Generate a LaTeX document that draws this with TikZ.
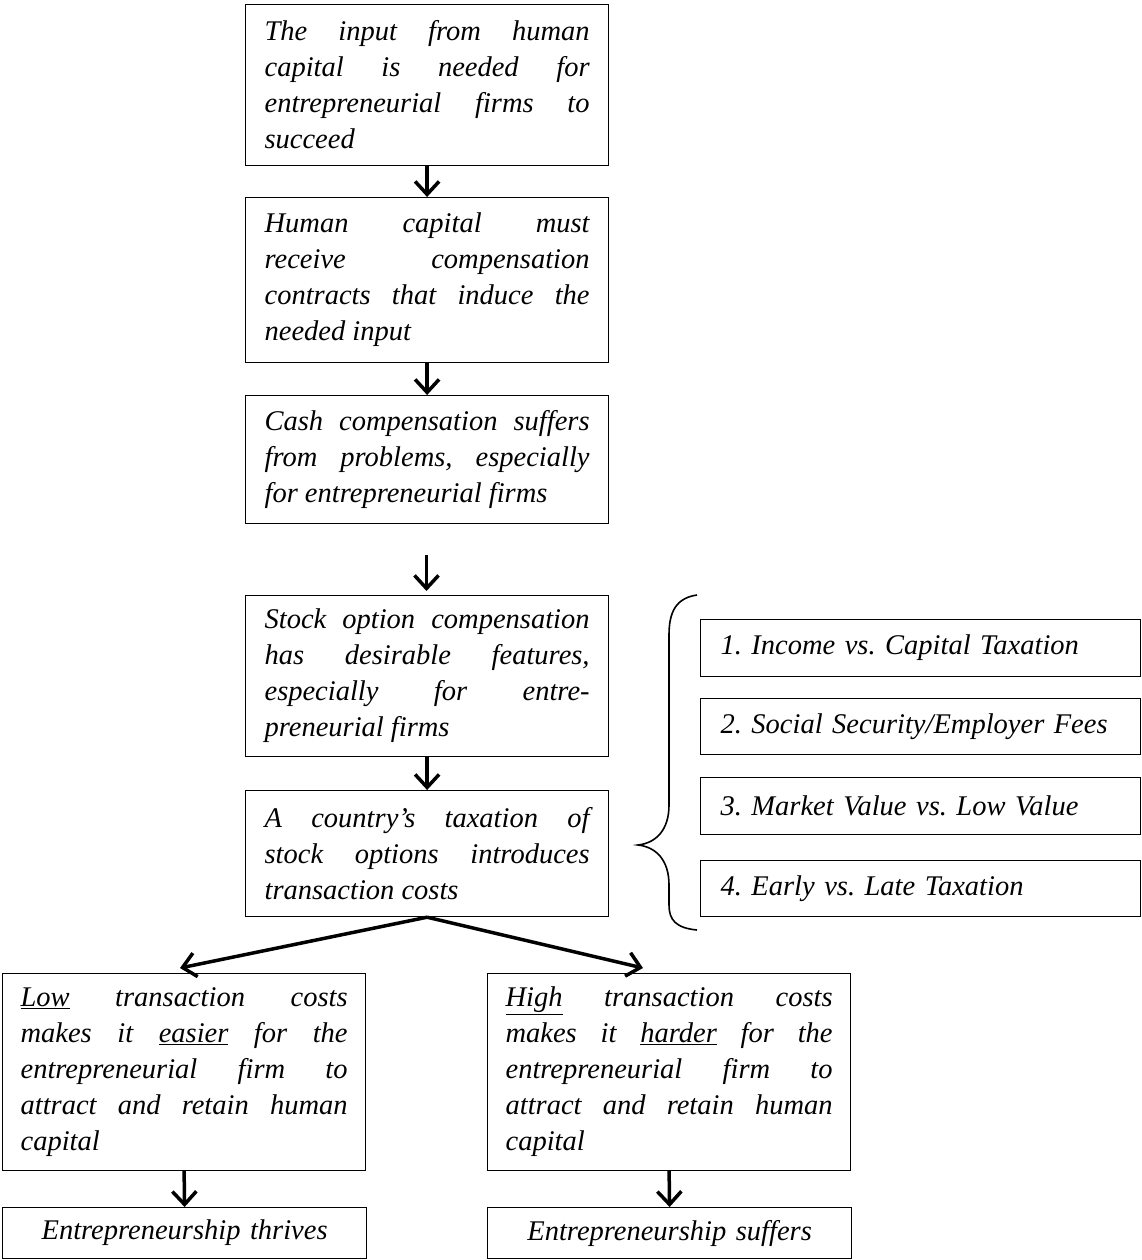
\documentclass[tikz,border=0pt]{standalone}
\usepackage{fontspec}
\setmainfont{Liberation Serif}
\usetikzlibrary{arrows.meta}
\tolerance=10000
\hbadness=10000
\frenchspacing
\begin{document}
\begin{tikzpicture}[x=1pt,y=-1pt,
  txt/.style={font=\fontsize{28.5}{36}\selectfont\itshape\frenchspacing},
  box/.style={txt, draw, line width=1.2pt, anchor=north west, text width=325pt,
    inner xsep=19pt, inner ysep=0pt, align=justify, minimum width=363pt},
  sbox/.style={txt, draw, line width=1.2pt, anchor=north west, text width=400pt,
    inner xsep=20pt, inner ysep=0pt, align=left, minimum width=440pt},
  ebox/.style={txt, draw, line width=1.2pt, anchor=north west, text width=326pt,
    inner xsep=19pt, inner ysep=0pt, align=center, minimum width=364pt, minimum height=51pt},
  arr/.style={line width=3.5pt, -{Straight Barb[length=13pt,width=24pt]}}]
\useasboundingbox (0,0) rectangle (1141,1260);

\node[box, minimum height=161pt] (b1) at (245,4)
  {The input from human\linebreak capital is needed for\linebreak entrepreneurial firms to\linebreak succeed};
\node[box, minimum height=165pt] (b2) at (245,197)
  {Human capital must\linebreak receive compensation\linebreak contracts that induce the\linebreak needed input};
\node[box, minimum height=128pt] (b3) at (245,395)
  {Cash compensation suffers\linebreak from problems, especially\linebreak for entrepreneurial firms};
\node[box, minimum height=161pt] (b4) at (245,595)
  {Stock option compensation\linebreak has desirable features,\linebreak especially for entre-\linebreak preneurial firms};
\node[box, minimum height=126pt] (b5) at (245,790)
  {A country’s taxation of\linebreak stock options introduces\linebreak transaction costs};

\node[box, minimum height=197pt, text width=327pt, inner xsep=18pt] (b6) at (2,973)
  {\underline{Low} transaction costs\linebreak makes it \underline{easier} for the\linebreak entrepreneurial firm to\linebreak attract and retain human\linebreak capital};
\node[box, minimum height=197pt, text width=327pt, inner xsep=18pt] (b7) at (487,973)
  {\underline{High} transaction costs\linebreak makes it \underline{harder} for the\linebreak entrepreneurial firm to\linebreak attract and retain human\linebreak capital};

\node[ebox] (b8) at (2,1207) {Entrepreneurship thrives};
\node[ebox] (b9) at (487,1207) {Entrepreneurship suffers};

\node[sbox, minimum height=57pt] (s1) at (700,619) {1. Income vs. Capital Taxation};
\node[sbox, minimum height=56pt] (s2) at (700,698) {2. Social Security/Employer Fees};
\node[sbox, minimum height=57pt] (s3) at (700,777) {3. Market Value vs. Low Value};
\node[sbox, minimum height=56pt] (s4) at (700,860) {4. Early vs. Late Taxation};

\coordinate (a3s) at (426.5,555);
\coordinate (a3e) at (426.5,591);
\coordinate (lt) at (180,968);
\coordinate (rt) at (643,968);

\draw[arr] (b1.south) -- (b2.north);
\draw[arr] (b2.south) -- (b3.north);
\draw[arr] (a3s) -- (a3e);
\draw[arr] (b4.south) -- (b5.north);
\draw[arr] (b5.south) -- (lt);
\draw[arr] (b5.south) -- (rt);
\draw[arr] (b6.south) -- (b8.north);
\draw[arr] (b7.south) -- (b9.north);

% brace
\draw[line width=1.6pt] (697,595) .. controls (676,598) and (669,612) .. (669,635)
  -- (669,805) .. controls (669,830) and (656,843) .. (638,845)
  .. controls (656,847) and (669,860) .. (669,885)
  -- (669,905) .. controls (669,920) and (676,928) .. (697,930);
\end{tikzpicture}
\end{document}
